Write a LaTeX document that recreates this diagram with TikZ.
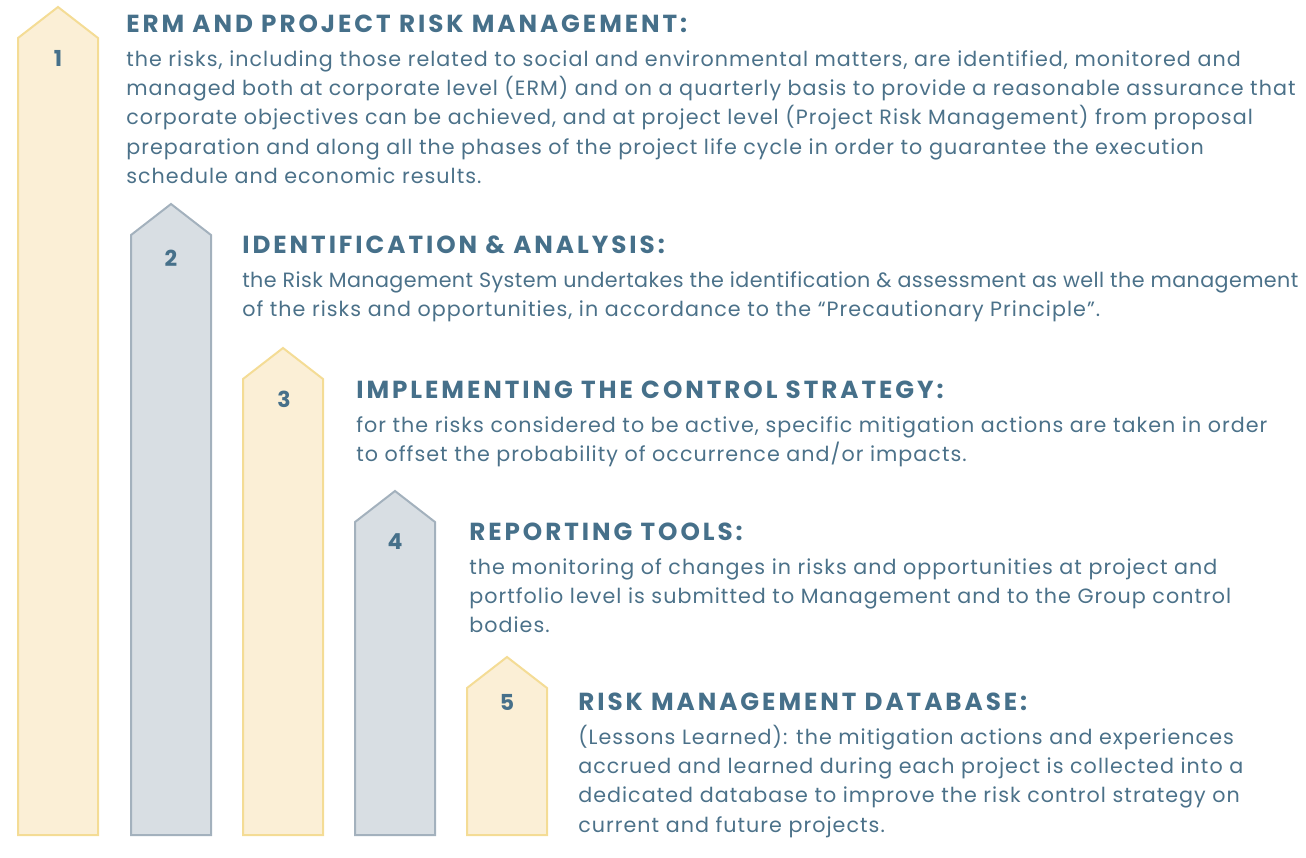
\documentclass[tikz,border=0pt]{standalone}
\usepackage{fontspec}
\setmainfont{Poppins}
\newfontfamily\bodyfont[LetterSpace=5]{Poppins}
\newfontfamily\headfont[LetterSpace=12]{Poppins}
\usetikzlibrary{positioning}
\definecolor{ink}{HTML}{4B7189}
\definecolor{inkdark}{HTML}{46708A}
\definecolor{sandfill}{HTML}{FBEFD6}
\definecolor{sandline}{HTML}{F4DC95}
\definecolor{slatefill}{HTML}{D8DEE3}
\definecolor{slateline}{HTML}{A3B1BD}

\begin{document}
\begin{tikzpicture}[x=0.75pt,y=-0.75pt,
  tag/.style={line width=1.5pt,line join=miter},
  sand/.style={tag,fill=sandfill,draw=sandline},
  slate/.style={tag,fill=slatefill,draw=slateline},
  num/.style={font=\fontsize{16.5}{18}\selectfont\bfseries,text=inkdark,inner sep=0pt,anchor=base},
  ttl/.style={font=\headfont\fontsize{18.5}{22}\selectfont\bfseries,text=inkdark,inner sep=0pt,anchor=base west,text depth=0pt},
  txt/.style={font=\bodyfont\fontsize{15.5}{22}\selectfont,text=ink,inner sep=0pt,align=left}]
  \useasboundingbox (0,0) rectangle (1306,857);

  % the five upward tags, left to right
  \foreach \k/\x/\y/\s in {1/18/7/sand,2/131/204/slate,3/243/348/sand,4/355/491/slate,5/467/657/sand}
    \draw[\s] (\x,835) -- (\x,\y+31) -- (\x+40,\y) -- (\x+80,\y+31) -- (\x+80,835) -- cycle;

  % step numbers
  \node[num] (n1) at (58,66) {1};
  \node[num] (n2) at (171,266) {2};
  \node[num] (n3) at (284,407) {3};
  \node[num] (n4) at (395,549) {4};
  \node[num] (n5) at (507,710) {5};

  % headings
  \node[ttl] (t1) at (126,32) {ERM AND PROJECT RISK MANAGEMENT:};
  \node[ttl] (t2) at (242,253) {IDENTIFICATION \& ANALYSIS:};
  \node[ttl] (t3) at (356,398) {IMPLEMENTING THE CONTROL STRATEGY:};
  \node[ttl] (t4) at (469,540) {REPORTING TOOLS:};
  \node[ttl] (t5) at (578,710) {RISK MANAGEMENT DATABASE:};

  % descriptions, hung under each heading
  \node[txt, below=9.7pt of t1.south west, anchor=north west] (d1) {\strut the risks, including those related to social and environmental matters, are identified, monitored and\\
    managed both at corporate level (ERM) and on a quarterly basis to provide a reasonable assurance that\\
    corporate objectives can be achieved, and at project level (Project Risk Management) from proposal\\
    preparation and along all the phases of the project life cycle in order to guarantee the execution\\
    schedule and economic results.};
  \node[txt, below=9.7pt of t2.south west, anchor=north west] (d2) {\strut{\addfontfeatures{LetterSpace=2}the Risk Management System undertakes the identification \& assessment as well the management}\\
    of the risks and opportunities, in accordance to the “Precautionary Principle”.};
  \node[txt, below=9.7pt of t3.south west, anchor=north west] (d3) {\strut for the risks considered to be active, specific mitigation actions are taken in order\\
    to offset the probability of occurrence and/or impacts.};
  \node[txt, below=9.7pt of t4.south west, anchor=north west] (d4) {\strut the monitoring of changes in risks and opportunities at project and\\
    portfolio level is submitted to Management and to the Group control\\
    bodies.};
  \node[txt, below=9.7pt of t5.south west, anchor=north west] (d5) {\strut (Lessons Learned): the mitigation actions and experiences\\
    accrued and learned during each project is collected into a\\
    dedicated database to improve the risk control strategy on\\
    current and future projects.};
\end{tikzpicture}
\end{document}
